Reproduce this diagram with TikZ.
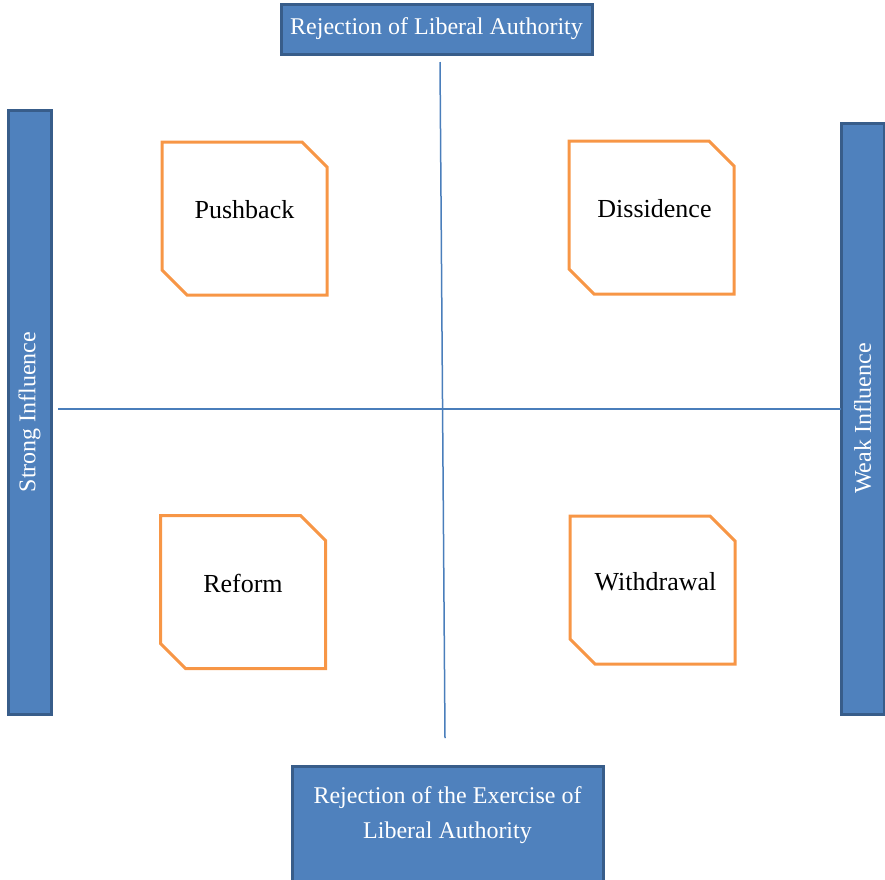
\documentclass[tikz,border=0pt]{standalone}
\usepackage{fontspec}
\setmainfont{Liberation Serif}
\usepackage{tikz}
\usetikzlibrary{shapes.misc}
\definecolor{barblue}{HTML}{4F81BD}
\definecolor{bardark}{HTML}{385D8A}
\definecolor{axisblue}{HTML}{4A7EBB}
\definecolor{quadorange}{HTML}{F79646}

\begin{document}
\begin{tikzpicture}[
      x=1pt, y=-1pt,
      bluebox/.style={draw=bardark, fill=barblue, line width=3pt, text=white,
                      align=center, inner sep=0pt,
                      font=\fontsize{24}{35}\selectfont},
      quad/.style={chamfered rectangle, chamfered rectangle corners={north east,south west},
                   chamfered rectangle xsep=12.5pt, chamfered rectangle ysep=12.5pt,
                   draw=quadorange, line width=3pt, inner sep=0pt,
                   minimum width=165pt, minimum height=153pt,
                   text height=18pt, text depth=18pt,
                   font=\fontsize{26}{30}\selectfont},
      axis/.style={draw=axisblue, line width=1.5pt}
    ]
    \clip (0,0) rectangle (885,879);
    \node[bluebox, minimum width=311pt, minimum height=50pt] (liberal) at (436.5,29) {Rejection of Liberal Authority};
    \node[bluebox, minimum width=311pt, minimum height=140pt, anchor=north, inner ysep=20pt, text depth=70pt]
        (exercise) at (447.5,765) {Rejection of the Exercise of\\Liberal Authority};
    \node[bluebox, rotate=90, minimum width=604pt, minimum height=43pt] (strong) at (29.5,412) {Strong Influence};
    \node[bluebox, rotate=90, minimum width=591pt, minimum height=43pt] (weak) at (862.5,418.5) {Weak Influence};

    \coordinate (ytop) at (440,62);
    \coordinate (ybot) at (445,738);
    \coordinate (xleft) at (58,409);
    \coordinate (xright) at (841,409);
    \draw[axis] (xleft) -- (xright);
    \draw[axis] (ytop) -- (ybot);

    \node[quad] (pushback) at (244.5,218.5) {Pushback};
    \node[quad] (dissidence) at (651.5,217.5) {\hspace*{6pt}Dissidence};
    \node[quad] (reform) at (243,592) {Reform};
    \node[quad, minimum height=148pt] (withdrawal) at (652.5,590) {\hspace*{6pt}Withdrawal};
  \end{tikzpicture}
\end{document}
